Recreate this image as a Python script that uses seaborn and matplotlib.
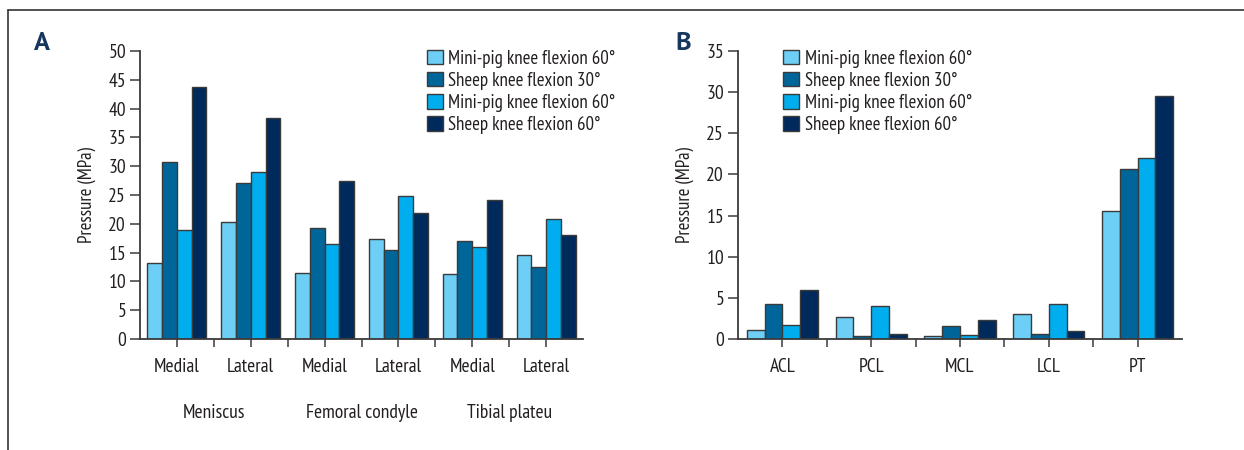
import numpy as np
import pandas as pd
import seaborn as sns
import matplotlib.pyplot as plt
from matplotlib.lines import Line2D
from matplotlib.ticker import FixedLocator

# ---- data ----
series = ["Mini-pig knee flexion 60°", "Sheep knee flexion 30°",
          "Mini-pig knee flexion 60° ", "Sheep knee flexion 60°"]
colors = ["#6dcff6", "#00669a", "#00aeef", "#002a5c"]

a_categories = ["Medial", "Lateral", "Medial ", "Lateral ", "Medial  ", "Lateral  "]
a_tick_labels = ["Medial", "Lateral", "Medial", "Lateral", "Medial", "Lateral"]
a_groups = ["Meniscus", "Femoral condyle", "Tibial plateu"]
a_minipig60_1 = [13.2, 20.3, 11.5, 17.4, 11.2, 14.5]
a_sheep30 = [30.7, 27.0, 19.2, 15.4, 17.0, 12.5]
a_minipig60_2 = [19.0, 29.0, 16.5, 24.8, 16.0, 20.9]
a_sheep60 = [43.7, 38.4, 27.4, 21.9, 24.2, 18.1]

b_categories = ["ACL", "PCL", "MCL", "LCL", "PT"]
b_minipig60_1 = [1.1, 2.7, 0.4, 3.0, 15.5]
b_sheep30 = [4.2, 0.4, 1.6, 0.65, 20.6]
b_minipig60_2 = [1.7, 3.95, 0.5, 4.2, 22.05]
b_sheep60 = [5.9, 0.55, 2.3, 0.95, 29.5]

y_label = "Pressure (MPa)"


def long_form(cats, cols):
    rows = []
    for s, vals in zip(series, cols):
        for c, v in zip(cats, vals):
            rows.append({"category": c, "series": s, "value": v})
    return pd.DataFrame(rows)


df_a = long_form(a_categories, [a_minipig60_1, a_sheep30, a_minipig60_2, a_sheep60])
df_b = long_form(b_categories, [b_minipig60_1, b_sheep30, b_minipig60_2, b_sheep60])

sns.set_style("white")
plt.rcParams["font.family"] = ["PT Sans Narrow", "DejaVu Sans"]

W, H = 1244, 450
fig = plt.figure(figsize=(W / 100, H / 100), dpi=100)


def px_axes(x0, x1, ytop, ybot):
    return fig.add_axes([x0 / W, 1 - ybot / H, (x1 - x0) / W, (ybot - ytop) / H])


ax_a = px_axes(140, 583, 51, 339)
ax_b = px_axes(738, 1182, 51, 339)

palette = dict(zip(series, colors))
text_color = "#231f20"
line_color = "#3a3a3a"
tick_fs = 14
for ax, df, cats, ymax, ystep in [(ax_a, df_a, a_categories, 50, 5),
                                   (ax_b, df_b, b_categories, 35, 5)]:
    sns.barplot(data=df, x="category", y="value", hue="series", order=cats,
                hue_order=series, palette=palette, width=0.8, saturation=1,
                edgecolor=line_color, linewidth=1.0, ax=ax, errorbar=None)
    ax.set_ylim(0, ymax)
    ax.set_xlim(-0.5, len(cats) - 0.5)
    ax.set_yticks(np.arange(0, ymax + 0.1, ystep))
    ax.set_xlabel("")
    ax.set_ylabel(y_label, fontsize=13.5, color=text_color, labelpad=9)
    for side in ["top", "right"]:
        ax.spines[side].set_visible(False)
    for side in ["left", "bottom"]:
        ax.spines[side].set_color(line_color)
        ax.spines[side].set_linewidth(1.3)
    ax.xaxis.set_minor_locator(FixedLocator(np.arange(0.5, len(cats) - 0.5, 1)))
    ax.tick_params(axis="y", direction="out", length=7, width=1.1, color=line_color,
                   labelsize=tick_fs, labelcolor=text_color, pad=3, left=True)
    ax.tick_params(axis="x", which="both", direction="out", length=6, width=1.1,
                   color=line_color, labelsize=tick_fs, labelcolor=text_color,
                   pad=8, bottom=True)
    leg = ax.get_legend()
    if leg is not None:
        leg.remove()

ax_a.set_xticks(range(len(a_categories)))
ax_a.set_xticklabels(a_tick_labels)
ax_b.set_xticks(range(len(b_categories)))
ax_b.set_xticklabels(b_categories)

# group labels under the first panel
for i, g in enumerate(a_groups):
    ax_a.text(2 * i + 0.5, -0.257, g, transform=ax_a.get_xaxis_transform(),
              ha="center", va="center", fontsize=tick_fs, color=text_color)

# legends
for ax, anchor in [(ax_a, (0.647, 1.005)), (ax_b, (0.102, 1.005))]:
    handles, labels = ax.get_legend_handles_labels()
    ax.legend(handles, [l.strip() for l in labels], loc="upper left",
              bbox_to_anchor=anchor, frameon=False, fontsize=13.6,
              handlelength=0.85, handleheight=0.8, handletextpad=0.3,
              labelspacing=0.22, borderpad=0, borderaxespad=0,
              labelcolor=text_color)

# panel letters
for x, letter in [(42, "A"), (683, "B")]:
    fig.text(x / W, 1 - 43 / H, letter, fontsize=19, fontweight="bold",
             color="#17365d", ha="center", va="center", family=["PT Sans", "DejaVu Sans"])

# border lines along the top and left edges
fig.add_artist(Line2D([8 / W, 1], [1 - 10 / H, 1 - 10 / H], color="#333333", lw=1.2))
fig.add_artist(Line2D([8 / W, 8 / W], [0, 1 - 10 / H], color="#333333", lw=1.2))

fig.savefig("out.png", dpi=100)
